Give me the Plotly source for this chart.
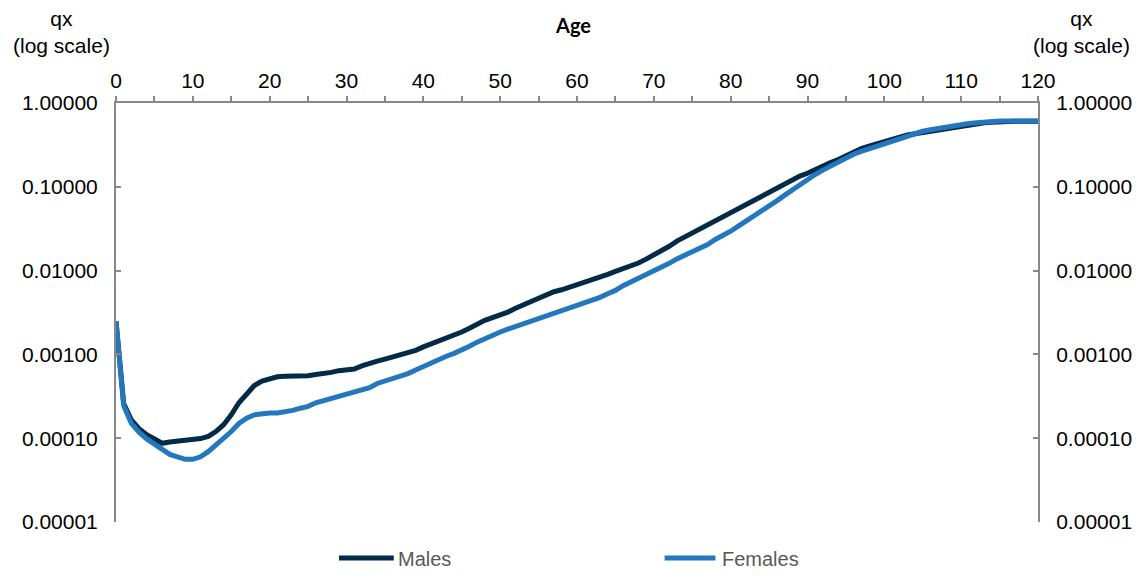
import plotly.graph_objects as go

ages = list(range(0, 121))

males = [
    0.00247, 0.00026, 0.000165, 0.000130, 0.000110, 0.000096, 0.000087, 0.000090, 0.000092, 0.000095,
    0.000097, 0.000099, 0.000105, 0.000120, 0.000145, 0.000190, 0.000265, 0.000345, 0.000425, 0.000480,
    0.000515, 0.000540, 0.000550, 0.000550, 0.000550, 0.000555, 0.000575, 0.000585, 0.000610, 0.000640,
    0.000660, 0.000670, 0.000730, 0.000790, 0.000830, 0.000880, 0.000930, 0.000980, 0.001030, 0.001120,
    0.001230, 0.001330, 0.001440, 0.001580, 0.001720, 0.001850, 0.002050, 0.002300, 0.002550, 0.002750,
    0.002950, 0.003200, 0.003550, 0.003900, 0.004200, 0.004600, 0.005200, 0.005600, 0.005900, 0.006300,
    0.006800, 0.007200, 0.007700, 0.008300, 0.009000, 0.009800, 0.010500, 0.011300, 0.012300, 0.013700,
    0.015300, 0.017200, 0.019500, 0.022500, 0.025200, 0.028000, 0.031000, 0.034500, 0.038500, 0.043000,
    0.048000, 0.054000, 0.061000, 0.069000, 0.078000, 0.087000, 0.097000, 0.108000, 0.120000, 0.134000,
    0.145000, 0.160000, 0.182000, 0.195000, 0.212000, 0.235000, 0.260000, 0.285000, 0.305000, 0.325000,
    0.345000, 0.375000, 0.400000, 0.415000, 0.430000, 0.445000, 0.465000, 0.480000, 0.500000, 0.520000,
    0.535000, 0.550000, 0.565000, 0.580000, 0.590000, 0.600000, 0.605000, 0.605000, 0.605000, 0.605000,
    0.605000,
]

females = [
    0.00247, 0.000245, 0.000150, 0.000118, 0.000098, 0.000085, 0.000072, 0.000064, 0.000060, 0.000056,
    0.000056, 0.000060, 0.000069, 0.000082, 0.000100, 0.000120, 0.000150, 0.000173, 0.000190, 0.000198,
    0.000200, 0.000200, 0.000205, 0.000215, 0.000228, 0.000240, 0.000265, 0.000280, 0.000295, 0.000310,
    0.000330, 0.000350, 0.000375, 0.000400, 0.000450, 0.000480, 0.000520, 0.000555, 0.000590, 0.000650,
    0.000720, 0.000780, 0.000860, 0.000950, 0.001030, 0.001120, 0.001250, 0.001400, 0.001550, 0.001700,
    0.001850, 0.002000, 0.002150, 0.002350, 0.002500, 0.002700, 0.002950, 0.003150, 0.003300, 0.003550,
    0.003800, 0.004100, 0.004400, 0.004800, 0.005300, 0.005800, 0.006600, 0.007300, 0.008000, 0.008800,
    0.009700, 0.010800, 0.012200, 0.013800, 0.015200, 0.016700, 0.018500, 0.020500, 0.023500, 0.026000,
    0.029500, 0.034000, 0.039000, 0.044000, 0.050000, 0.057000, 0.068000, 0.079000, 0.092000, 0.106000,
    0.122000, 0.140000, 0.158000, 0.178000, 0.198000, 0.220000, 0.245000, 0.265000, 0.285000, 0.308000,
    0.330000, 0.355000, 0.380000, 0.410000, 0.440000, 0.460000, 0.480000, 0.500000, 0.520000, 0.540000,
    0.555000, 0.570000, 0.580000, 0.595000, 0.605000, 0.610000, 0.610000, 0.610000, 0.610000, 0.610000,
    0.610000,
]

series_names = ["Males", "Females"]
series_colors = ["#032a47", "#2277bf"]
y_tick_vals = [1, 0.1, 0.01, 0.001, 0.0001, 0.00001]
y_tick_text = ["1.00000", "0.10000", "0.01000", "0.00100", "0.00010", "0.00001"]
x_title = "Age"
y_title = "qx<br>(log scale)"

W, H = 1144, 579
L, R, T, B = 116, 1042, 103, 522

def px_x(p):
    return (p - L) / (R - L)

def px_y(p):
    return (B - p) / (B - T)

FONT = "Liberation Sans, Arial, sans-serif"
AXIS_GREY = "#888888"

fig = go.Figure()
fig.add_trace(go.Scatter(x=ages, y=males, name=series_names[0], mode="lines",
                         line=dict(color=series_colors[0], width=5)))
fig.add_trace(go.Scatter(x=ages, y=females, name=series_names[1], mode="lines",
                         line=dict(color=series_colors[1], width=5)))
# invisible copy to anchor the right-hand axis
fig.add_trace(go.Scatter(x=ages, y=females, yaxis="y2", mode="lines", showlegend=False,
                         hoverinfo="skip", line=dict(width=0), opacity=0))

fig.update_layout(
    width=W, height=H, autosize=False,
    margin=dict(l=L, r=W - R, t=T, b=H - B, pad=0),
    paper_bgcolor="white", plot_bgcolor="white",
    showlegend=False,
    font=dict(family=FONT, size=21, color="#000000"),
    xaxis=dict(
        side="top", range=[0, 120], tick0=0, dtick=10,
        ticks="outside", ticklen=5, tickwidth=2, tickcolor=AXIS_GREY,
        minor=dict(dtick=5, ticks="outside", ticklen=5, tickwidth=2, tickcolor=AXIS_GREY),
        showline=True, linecolor=AXIS_GREY, linewidth=2,
        showgrid=False, zeroline=False,
        tickfont=dict(family=FONT, size=21, color="#000000"),
    ),
    yaxis=dict(
        type="log", range=[-5, 0], tickvals=y_tick_vals, ticktext=y_tick_text,
        ticks="inside", ticklen=5, tickwidth=2, tickcolor=AXIS_GREY,
        showline=True, linecolor=AXIS_GREY, linewidth=2,
        showgrid=False, zeroline=False, ticklabelstandoff=12,
        tickfont=dict(family=FONT, size=21, color="#000000"),
    ),
    yaxis2=dict(
        type="log", range=[-5, 0], tickvals=y_tick_vals, ticktext=y_tick_text,
        overlaying="y", side="right", anchor="x",
        ticks="inside", ticklen=5, tickwidth=2, tickcolor=AXIS_GREY,
        showline=True, linecolor=AXIS_GREY, linewidth=2,
        showgrid=False, zeroline=False, ticklabelstandoff=12,
        tickfont=dict(family=FONT, size=21, color="#000000"),
    ),
)

annotations = [
    dict(text="<b>" + x_title + "</b>", x=px_x(575), y=px_y(25), xref="paper", yref="paper",
         xanchor="center", yanchor="middle", showarrow=False,
         font=dict(family="Lato, Liberation Sans, sans-serif", size=20, color="#000000")),
    dict(text=y_title, x=px_x(61), y=px_y(32), xref="paper", yref="paper",
         xanchor="center", yanchor="middle", showarrow=False, align="center",
         font=dict(family=FONT, size=21, color="#000000")),
    dict(text=y_title, x=px_x(1086), y=px_y(32), xref="paper", yref="paper",
         xanchor="center", yanchor="middle", showarrow=False, align="center",
         font=dict(family=FONT, size=21, color="#000000")),
]

# custom legend (long line samples like the reference)
legend_items = [(340, 395, 397), (667, 718, 723)]
shapes = []
for (x0, x1, tx), name, col in zip(legend_items, series_names, series_colors):
    shapes.append(dict(type="line", xref="paper", yref="paper",
                       x0=px_x(x0), x1=px_x(x1), y0=px_y(558), y1=px_y(558),
                       line=dict(color=col, width=5)))
    annotations.append(dict(text=name, x=px_x(tx), y=px_y(559), xref="paper", yref="paper",
                            xanchor="left", yanchor="middle", showarrow=False,
                            font=dict(family=FONT, size=20, color="#595959")))

fig.update_layout(annotations=annotations, shapes=shapes)

fig.write_html("out.html", config={"displayModeBar": False},
               post_script="document.body.style.margin='0';document.body.style.overflow='hidden';")
